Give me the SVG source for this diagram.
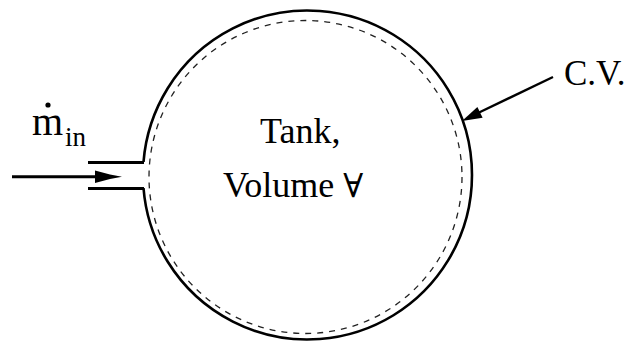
<svg xmlns="http://www.w3.org/2000/svg" width="634" height="341" viewBox="0 0 634 341">
<style>
.t{fill:#000}
.wall{fill:none;stroke:#000;stroke-width:2.6}
.cv{fill:none;stroke:#222;stroke-width:1.3;stroke-dasharray:6 6}
.ln{stroke:#000;fill:none}
</style>
<rect width="634" height="341" fill="#fff"/>
<g id="tank">
<path class="wall" d="M143.5 188 A164.5 164.5 0 1 0 143.5 162"/>
<text class="t" x="260" y="143" font-size="36" font-family="Liberation Serif">Tank,</text>
<text class="t" x="223" y="197" font-size="36" font-family="Liberation Serif">Volume <tspan font-family="DejaVu Serif" font-size="33">∀</tspan></text>
</g>
<g id="control-volume">
<circle class="cv" cx="305.5" cy="177" r="156.5"/>
</g>
<g id="inlet">
<line class="ln" x1="88" y1="162.5" x2="144" y2="162.5" stroke-width="3"/>
<line class="ln" x1="88" y1="188.5" x2="144" y2="188.5" stroke-width="3"/>
<text class="t" x="32" y="135" font-size="40" font-family="Liberation Serif">m</text>
<circle cx="48" cy="105" r="2.6" fill="#000"/>
<text class="t" x="65" y="146" font-size="27" font-family="Liberation Serif">in</text>
</g>
<g id="cv-label">
<text class="t" x="564" y="85" font-size="35" font-family="Liberation Serif">C.V.</text>
</g>
<g id="connectors">
<line class="ln" x1="12" y1="176.7" x2="100" y2="176.7" stroke-width="3"/>
<polygon points="95,170.5 110,174.5 122,176.7 110,179 95,183" fill="#000"/>
<line class="ln" x1="553" y1="77" x2="478" y2="113" stroke-width="2.4"/>
<polygon points="462,121 477.4,106.9 482.6,117.7" fill="#000"/>
</g>
</svg>
